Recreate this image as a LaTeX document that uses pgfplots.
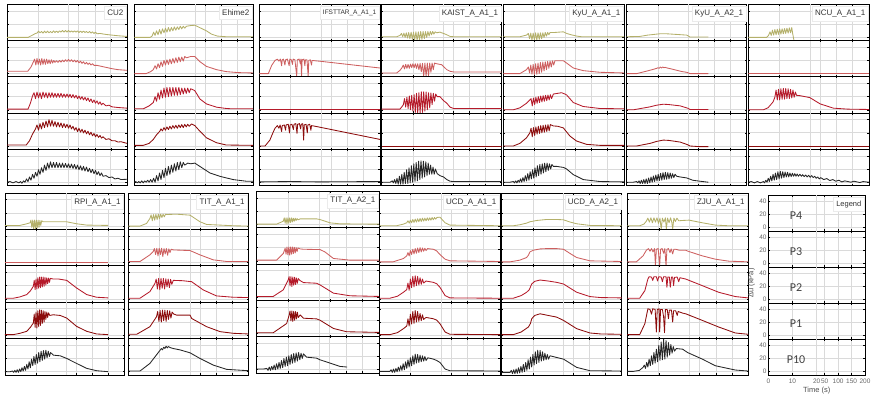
\documentclass[border=0pt]{standalone}
\usepackage{pgfplots}
\pgfplotsset{compat=1.18}
\usepackage{fontspec}
\setmainfont{Liberation Sans}
\newfontfamily\pfont{Carlito}

\definecolor{cPa}{HTML}{B4B06A}% P4
\definecolor{cPb}{HTML}{CD5F5F}% P3
\definecolor{cPc}{HTML}{B51A2A}% P2
\definecolor{cPd}{HTML}{8C0C0C}% P1
\definecolor{cPe}{HTML}{262626}% P10
\definecolor{gridc}{HTML}{DADADA}

% time axis: 0-20 s on the left part, 20-200 s compressed on the right part
\pgfplotsset{
  sp/.style={scale only axis, anchor=north west,
    xmin=0, xmax=40, ymin=-5, ymax=50,
    xtick={0,10.4,23.9,29.3,34.6,40}, ytick={0,20,40},
    extra x ticks={20.6},
    extra x tick style={grid style={black, line width=0.8pt}, major tick length=0pt},
    xmajorgrids, ymajorgrids,
    major grid style={gridc, line width=0.7pt},
    xticklabels={}, yticklabels={}, extra x tick labels={},
    tick align=inside, major tick length=1.6pt,
    tick style={black, line width=0.5pt},
    axis line style={black, line width=0.8pt},
  },
  r0/.style={cPa}, r1/.style={cPb}, r2/.style={cPc}, r3/.style={cPd}, r4/.style={cPe},
}
% current panel: left edge \xl, top edge \yt, width \ww, row height \hh (pt)
\newcommand{\sub}[2]{%
  \begin{axis}[sp, at={(\xl pt,{-(\yt+#1*\hh)*1pt})}, width=\ww pt, height=\hh pt]
    \addplot[r#1, line width=0.85pt, line join=round, mark=none] coordinates {#2};
  \end{axis}}
\newcommand{\esub}[1]{%
  \begin{axis}[sp, at={(\xl pt,{-(\yt+#1*\hh)*1pt})}, width=\ww pt, height=\hh pt]
  \end{axis}}
\newcommand{\ttl}[2][8]{%
  \node[anchor=north east, fill=white, draw=black!8, text=black!80,
    font=\fontsize{#1}{#1}\selectfont, inner xsep=3pt, inner ysep=3.5pt]
    at ({(\xl+\ww-0.5)*1pt},{-(\yt+2)*1pt}) {#2};}
\newcommand{\pset}[4]{\def\xl{#1}\def\yt{#2}\def\ww{#3}\def\hh{#4}}

\begin{document}
\begin{tikzpicture}
\path[use as bounding box] (0,0) rectangle (877pt,-398pt);

%% ---------------- CU2
\pset{7}{4.5}{120}{36.2}
\sub{0}{(0,0)(7,0)(8.3,3)(9.5,6)(10,6.5)(10.5,9.5)(11,7)(11.5,9)(12,6.5)(12.5,9.5)(13,7)(13.5,9.5)(14,7)(14.5,9)(15,7)(15.5,10)(16,7.5)(16.5,9.5)(17,7.5)(17.5,10)(18,8)(18.5,10.5)(19,8)(19.5,10.5)(20,8)(20.5,10.5)(21,8)(21.5,10)(22,8)(22.5,10)(23,8)(23.5,10)(24,7.5)(24.5,9.5)(25,7.5)(25.5,9.5)(26,7.5)(26.5,9)(27,7)(27.5,9)(28,6.5)(28.5,8.5)(29,6)(29.5,8)(30,5.5)(31,6)(33,4.5)(35,3.5)(37,2.5)(40,1.5)}
\sub{1}{(0,3.5)(6.9,3.5)(8,10)(8.8,18)(9.2,22)(9.6,13)(10,23)(10.4,14)(10.8,22)(11.2,13)(11.6,23)(12,14)(12.4,22)(12.8,14)(13.2,22)(13.6,15)(14,21)(14.4,15)(14.8,21)(15.2,16)(15.6,20)(16,17)(16.5,19.5)(17,17)(17.5,20)(18,17.5)(18.5,20.5)(19,18)(19.5,21)(20,18.5)(20.5,21.5)(21,18.5)(21.5,21)(22,18)(22.5,20.5)(23,17.5)(23.5,20)(24,16.5)(24.5,19)(25,15.5)(25.5,18)(26,14.5)(26.5,17)(27,14)(27.5,16)(28,13)(28.5,15)(29,12.5)(30,12.5)(31,11.5)(33,9.5)(35,7.5)(37,6)(40,5)}
\sub{2}{(0,1)(7,1)(7.8,10)(8.5,21)(9,26)(9.5,17)(10,27)(10.5,18)(11,26)(11.5,17)(12,27)(12.5,19)(13,26)(13.5,18)(14,26)(14.5,19)(15,26)(15.5,19)(16,25)(16.5,19)(17,25)(17.5,19)(18,25)(18.5,19)(19,24)(19.5,19)(20,24)(20.5,19)(21,23.5)(21.5,18.5)(22,23)(22.5,18)(23,22)(23.5,17)(24,21)(24.5,16)(25,20)(25.5,15)(26,19)(26.5,14)(27,18)(27.5,12.5)(28,16.5)(28.5,11)(29,15)(29.5,10)(30,13.5)(30.5,8.5)(31,12)(31.5,7.5)(32,10)(33,6)(34,7)(35,4.5)(37,3.5)(40,2.5)}
\sub{3}{(0,1.5)(6.4,1.5)(7.5,8)(8.5,18)(9.5,26)(10,32)(10.5,24)(11,34)(11.5,26)(12,36)(12.5,28)(13,38)(13.5,29)(14,40)(14.5,30)(15,39)(15.5,30)(16,37)(16.5,29)(17,36)(17.5,29)(18,35)(18.5,28)(19,34)(19.5,28)(20,33)(20.5,27)(21,32)(21.5,26)(22,30)(22.5,24)(23,28)(23.5,22)(24,27)(24.5,21)(25,25.5)(25.5,20)(26,24)(26.5,18.5)(27,22.5)(27.5,17)(28,21)(28.5,15.5)(29,19)(29.5,14)(30,17.5)(30.5,13)(31,16)(31.5,12)(32,14)(33,10)(34,11)(35,8)(36,8)(37,6)(38,6.5)(40,4)}
\sub{4}{(0,0)(1,1)(2,-1)(3,1)(4,-1)(4.5,1)(5,-1.5)(5.5,2)(6,0)(6.5,5)(7,1)(7.5,8)(8,3)(8.5,12)(9,6)(9.5,15)(10,9)(10.5,19)(11,12)(11.5,22)(12,15)(12.5,26)(13,18)(13.5,29)(14,21)(14.5,31)(15,22)(15.5,30)(16,22)(16.5,30)(17,22)(17.5,29)(18,22)(18.5,29)(19,22)(19.5,28.5)(20,22)(20.5,28)(21,21.5)(21.5,27.5)(22,21)(22.5,27)(23,20)(23.5,26)(24,19)(24.5,25)(25,18)(25.5,24)(26,17)(26.5,23)(27,16)(27.5,21)(28,14.5)(28.5,19.5)(29,13)(29.5,18)(30,11.5)(30.5,16)(31,10)(31.5,14)(32,9)(33,10)(34,7)(35,8)(36,5)(37,6)(38,4)(40,4.5)}
\ttl{CU2}

%% ---------------- Ehime2
\pset{134.3}{4.5}{118.7}{36.2}
\sub{0}{(0,0)(5.3,0)(6,2)(6.5,8)(7,3)(7.5,10)(8,4)(8.5,12)(9,5)(9.5,13)(10,7)(10.5,14)(11,8)(11.5,15)(12,9)(12.5,15)(13,10)(13.5,16)(14,11)(14.5,16)(15,12)(15.5,17)(16,13)(16.5,17)(17,14)(17.6,17)(19,18)(20.4,18.5)(22,15)(24.3,10)(26,5)(28,2)(31,1)(40,1)}
\sub{1}{(0,0)(4,0)(5.5,3)(6.4,6)(7,12)(7.5,7)(8,15)(8.5,9)(9,18)(9.5,11)(10,20)(10.5,13)(11,21)(11.5,14)(12,22)(12.5,15)(13,23)(13.5,16)(14,24)(14.5,17)(15,25)(15.5,18)(16,25)(16.5,19)(17,26)(17.6,24)(19,26)(20.4,26)(22,18.5)(24.3,11)(27.7,6)(31,3)(35,1.5)(40,1)}
\sub{2}{(0,1.5)(3,1.5)(5,6)(6.4,11)(7,20)(7.5,13)(8,26)(8.5,16)(9,30)(9.5,18)(10,33)(10.5,19)(11,34)(11.5,20)(12,34)(12.5,21)(13,34)(13.5,22)(14,34)(14.5,22)(15,34)(15.5,23)(16,33)(16.5,24)(17,33)(17.5,25)(18,33)(18.5,26)(19,32)(20,30)(20.4,29)(22.1,16.5)(24.3,9)(27.7,4)(31,2)(33,1.5)(40,1.5)}
\sub{3}{(0,1)(3,1)(5,4)(6.4,10)(7.5,17)(8.6,22.5)(9,26)(9.5,23)(10,28)(10.5,24)(11,29)(11.5,25)(12,30)(12.5,26)(13,31)(13.5,27)(14,31.5)(14.5,27)(15,32)(15.5,28)(16,32.5)(16.5,28)(17,33)(17.5,29)(18,33)(18.5,30)(19.3,33.5)(20.4,31)(22.1,22.5)(24.3,12.5)(27.7,5)(31,1.5)(40,1)}
\sub{4}{(0,0)(0.5,1)(1,-1)(1.5,1)(2,-1)(2.5,2)(3,-1)(3.5,2)(4,0)(4.5,3)(5,0)(5.5,4)(6,0)(6.5,6)(7,0)(7.5,10)(8,2)(8.5,14)(9,4)(9.5,18)(10,7)(10.5,21)(11,10)(11.5,24)(12,12)(12.5,26)(13,15)(13.5,28)(14,17)(14.5,30)(15,19)(15.5,31)(16,22)(16.5,30)(17,26)(18,29)(19,28)(20.4,29)(22.1,24)(25.5,14)(28.8,9)(33.3,4)(37.7,1.5)(40,1.5)}
\ttl{Ehime2}

%% ---------------- IFSTTAR_A_A1_1
\pset{259.3}{4.5}{120.7}{36.2}
\esub{0}
\sub{1}{(0,0)(3,0)(4.1,12.5)(5.2,20)(6,22)(6.5,19)(7,22)(7.4,12)(7.6,21)(8,22)(8.5,13)(8.7,21)(9.3,22)(9.9,12)(10.1,22)(10.6,21)(11,14)(11.2,22)(11.8,21)(12.4,-4)(12.6,21)(13.2,22)(13.6,15)(13.8,22)(14,-4)(14.2,21)(14.8,22)(15.1,12)(15.3,21)(15.8,21)(16.2,-4)(16.4,20)(16.9,21)(17.3,13)(17.5,20)(18.5,19.5)(20.7,18.5)(40,8.5)}
\sub{2}{(0,0)(40,0)}
\sub{3}{(0,0)(1.9,0)(3.5,9)(4.5,20)(5.2,27)(6,31)(6.5,27)(6.9,32)(7.4,22)(7.6,31)(8.3,32)(8.7,24)(8.9,32)(9.6,33)(10,20)(10.2,32)(10.8,33)(11.3,25)(11.5,33)(12.1,34)(12.5,19)(12.7,33)(13.3,34)(13.7,26)(13.9,33)(14.4,34)(14.7,9)(14.9,32)(15.5,33)(15.9,20)(16.1,32)(16.7,33)(17.1,24)(17.3,31)(18.5,30)(19.6,29)(40,10)}
\sub{4}{(0,0.5)(10,1)(20,0.5)(40,1)}
\ttl[6.5]{IFSTTAR\_A\_A1\_1}

%% ---------------- KAIST_A_A1_1
\pset{381.7}{4.5}{120}{36.2}
\sub{0}{(0,1)(5,1)(6.1,3)(6.6,6)(7,1)(7.4,6.5)(7.8,0)(8.2,7)(8.6,-1)(9,7.5)(9.4,-2)(9.8,8)(10.2,-3)(10.6,8)(11,-4)(11.4,8.5)(11.8,-4.5)(12.2,8.5)(12.6,-4)(13,9)(13.4,-3)(13.8,9)(14.2,-2)(14.6,9)(15,0)(15.4,9)(15.8,2)(16.2,9)(16.6,4)(17,9)(17.4,5)(17.8,8.5)(18.3,7)(19.4,8)(20.6,6)(21.7,4)(22.8,1.5)(24,1)(40,1)}
\sub{1}{(0,1)(5,1)(6.1,5)(6.7,8.5)(7.2,13)(7.6,7)(8,14)(8.4,8)(8.8,14)(9.2,8)(9.6,14.5)(10,9)(10.4,15)(10.8,9)(11.2,15)(11.6,8)(12,15)(12.4,6)(12.8,15.5)(13.2,3)(13.6,15.5)(14,-4)(14.4,16)(14.8,-4)(15.2,16)(15.6,-3)(16,16)(16.4,2)(16.8,16)(17.2,6)(17.6,16)(18.3,15)(20,13.5)(21.7,6)(22.8,3.5)(24,2.5)(40,2.5)}
\sub{2}{(0,1)(6.1,1)(7.2,7.5)(7.6,17)(8,4)(8.4,19)(8.8,2)(9.2,21)(9.6,0)(10,22)(10.4,-2)(10.8,23)(11.2,-4)(11.6,25)(12,-5)(12.4,26)(12.8,-5)(13.2,27.5)(13.6,-4)(14,27.5)(14.4,-2)(14.8,27)(15.2,0)(15.6,26)(16,3)(16.4,25.5)(16.8,8)(17.2,25)(17.6,13)(18,24)(18.5,20)(19.4,20)(20.6,14)(21.7,10)(22.8,4)(24,2)(40,2)}
\sub{3}{(0,0)(40,0)}
\sub{4}{(0,0)(2.8,0)(3.5,2)(3.9,-1)(4.3,4)(4.7,-2)(5.1,6)(5.5,-3)(5.9,9)(6.3,-3)(6.7,12)(7.1,-3)(7.5,15)(7.9,-2)(8.3,19)(8.7,-2)(9.1,22)(9.5,-1)(9.9,25)(10.3,0)(10.7,28)(11.1,1)(11.5,30)(11.9,2)(12.3,32)(12.7,4)(13.1,32.5)(13.5,6)(13.9,32)(14.3,8)(14.7,31)(15.1,10)(15.5,29)(15.9,12)(16.3,26)(16.7,12)(17.1,23)(17.5,12)(17.9,20)(18.5,13)(19.4,10)(20.6,8)(21.7,4)(22.8,1.5)(24,1)(40,1)}
\ttl{KAIST\_A\_A1\_1}

%% ---------------- KyU_A_A1_1
\pset{503.3}{4.5}{120.7}{36.2}
\sub{0}{(0,1)(5.5,1)(7.7,3.5)(8.3,6)(8.7,-2)(9.1,6.5)(9.5,-4)(9.9,6.5)(10.3,-4)(10.7,7)(11.1,-4)(11.5,7)(11.9,-3)(12.3,7)(12.7,-2)(13.1,7)(13.5,0)(13.9,7.5)(14.3,2)(14.7,7.5)(15.1,4)(15.5,7.5)(17,7.5)(19.9,8.5)(21,6)(22.1,4.5)(24.3,2)(26,1)(40,1)}
\sub{1}{(0,0)(5.5,0)(7.7,6)(8.3,10)(8.7,1)(9.1,13)(9.5,-1)(9.9,14)(10.3,-1.5)(10.7,15)(11.1,-1)(11.5,16)(11.9,0)(12.3,17)(12.7,2)(13.1,17.5)(13.5,4)(13.9,18)(14.3,6)(14.7,18.5)(15.1,8)(15.5,19)(15.9,10)(16.3,19.5)(16.7,13)(17.1,19.5)(17.7,19.5)(19.9,19.5)(21,16)(23.2,8.5)(26.5,4.5)(32,2)(40,1)}
\sub{2}{(0,0)(3.3,0)(5.5,3)(7.7,10)(8.8,15)(9.2,17)(9.6,6)(10,18)(10.4,8)(10.8,19)(11.2,10)(11.6,20)(12,11)(12.4,21)(12.8,12)(13.2,21.5)(13.6,13)(14,22)(14.4,14)(14.8,22.5)(15.2,15)(15.6,23)(16,17)(16.6,24)(18,25)(19.3,26)(20.4,24)(21,22.5)(23.2,11)(26.5,5)(32,2)(40,1.5)}
\sub{3}{(0,0)(3.3,0)(5.5,4)(7.7,12.5)(8.8,20)(9.2,27)(9.6,14)(10,28)(10.4,16)(10.8,29)(11.2,18)(11.6,30)(12,19)(12.4,31)(12.8,20)(13.2,31.5)(13.6,21)(14,32)(14.4,22)(14.8,32.5)(15.2,23)(15.6,32.5)(16.6,30.5)(18,30)(19.9,27.5)(22.1,15)(24.3,7.5)(27.6,2.5)(32,1)(40,1)}
\sub{4}{(0,0)(2.2,0)(3.3,1)(3.7,-1)(4.1,2)(4.5,-1)(4.9,3)(5.3,0)(5.7,5)(6.1,0)(6.5,7)(6.9,1)(7.3,10)(7.7,2)(8.1,13)(8.5,3)(8.9,16)(9.3,5)(9.7,19)(10.1,6)(10.5,22)(10.9,8)(11.3,25)(11.7,10)(12.1,27)(12.5,12)(12.9,28)(13.3,14)(13.7,29)(14.1,16)(14.5,29)(14.9,18)(15.3,28)(15.7,20)(16.1,27)(16.6,24)(17.7,24)(19.9,22.5)(21,20)(23.2,11.5)(26.5,4)(32,1)(40,0.5)}
\ttl{KyU\_A\_A1\_1}

%% ---------------- KyU_A_A2_1
\pset{626.7}{4.5}{120}{36.2}
\sub{0}{(0,1)(4.4,1.5)(7,3.5)(10,5)(11.1,5.5)(13.3,5.5)(16.7,4.5)(20,3.5)(20.6,2)(21.1,0.5)(27.2,0.5)}
\sub{1}{(0,0)(3.3,0)(6,3)(8.5,6)(10,8)(10.4,9)(10.8,8)(11.2,10)(11.6,8.5)(12,10)(12.4,9)(12.8,9.5)(13.5,8.5)(15,7)(16.7,5)(18.5,3)(20,2)(21.1,0)(27.2,0)}
\sub{2}{(0,0)(2.2,0)(7.8,4.5)(10,7)(12.2,8.5)(14,8)(17.8,6)(20.3,2.5)(21.1,0.5)(27.2,0.5)}
\sub{3}{(0,0)(3.3,0)(7.8,4)(10,7)(12.2,9)(14,8.5)(17.8,6)(20.3,2)(21.1,0)(24.4,-1)(27.2,-1)}
\sub{4}{(0,0)(2.2,0)(3.3,1)(3.7,-1)(4.1,2)(4.5,-2)(4.9,3)(5.3,-2)(5.7,4)(6.1,-2)(6.5,5)(6.9,-2)(7.3,6.5)(7.7,-1)(8.1,8)(8.5,0)(8.9,9.5)(9.3,1)(9.7,11)(10.1,2)(10.5,12)(10.9,2.5)(11.3,13.5)(11.7,3)(12.1,14.5)(12.5,4)(12.9,15)(13.3,4.5)(13.7,14.5)(14.1,5)(14.5,14)(14.9,6)(15.3,13)(15.7,7)(16.1,12)(16.7,9)(17.8,8)(20,6.5)(22,3)(24.4,1.5)(27.2,0)}
\ttl{KyU\_A\_A2\_1}

%% ---------------- NCU_A_A1_1
\pset{748.3}{4.5}{120.7}{36.2}
\sub{0}{(0,0)(6.1,0)(6.7,3)(7.2,8.5)(7.6,3)(8,11)(8.4,3.5)(8.8,12)(9.2,4)(9.6,12.5)(10,4.5)(10.4,13)(10.8,5)(11.2,13)(11.6,5.5)(12,13.5)(12.4,6)(12.8,14)(13.2,6.5)(13.6,14.5)(14,7)(14.4,15)(14.7,6)(15.1,-4)}
\sub{1}{(0,0)(40,0)}
\sub{2}{(0,0)(5,0)(6.5,3)(7.2,6.5)(8.2,12)(8.8,19)(9.2,30)(9.6,15)(10,31)(10.4,15)(10.8,32)(11.2,16)(11.6,32.5)(12,16)(12.4,32.5)(12.8,17)(13.2,32)(13.6,17)(14,31)(14.4,18)(14.8,30)(15.2,19)(15.6,27)(16,22)(17.1,21.5)(20.4,18.5)(23.8,9)(28.2,2.5)(33,1)(40,0.5)}
\sub{3}{(0,0)(40,0)}
\sub{4}{(0,0)(1,1)(2,-1)(3,1)(4,-1)(5,1)(5.4,-1)(5.8,3)(6.2,0)(6.6,6)(7,1)(7.4,9)(7.8,2)(8.2,12)(8.6,3)(9,14)(9.4,4)(9.8,16)(10.2,5)(10.6,16.5)(11,6)(11.4,16)(11.8,7)(12.2,15.5)(12.6,8)(13,15)(13.4,8)(13.8,14)(14.2,8.5)(14.6,13.5)(15,9)(15.4,13)(15.8,9)(16.2,12.5)(16.6,9)(17.1,12)(17.6,9)(18,11.5)(18.5,8.5)(19,11)(19.5,8)(20,10.5)(20.5,7.5)(21,10)(21.5,7)(22,9)(22.5,6)(23,8)(23.5,5)(24,7)(25,4)(26,5.5)(27,2.5)(28,4)(29,1.5)(30,3)(31,0.5)(32,2)(34,0)(35,1.5)(37,-0.5)(38,1)(40,0)}
\ttl{NCU\_A\_A1\_1}

%% ---------------- RPI_A_A1_1
\pset{5}{193}{119.3}{36.4}
\sub{0}{(0,1)(5,1)(7.3,3.5)(8.4,5)(8.7,9)(9,-2)(9.3,9)(9.6,-4)(9.9,9)(10.2,-4)(10.5,9)(10.8,-3)(11.1,9)(11.4,-2)(11.7,8.5)(12,1)(12.3,8)(12.8,6.5)(15,6.5)(20.7,6.5)(24,3.5)(27.4,1.5)(34.6,1)}
\sub{1}{(0,0)(34.6,0)}
\sub{2}{(0,1)(2.8,1)(5,3)(7.3,6.5)(8.5,12)(9.5,19)(9.8,28)(10.1,14)(10.4,30)(10.7,15)(11,32)(11.3,16)(11.6,33)(11.9,17)(12.2,33)(12.5,18)(12.8,33)(13.1,19)(13.4,32.5)(13.7,21)(14,32)(14.3,23)(14.6,31.5)(14.9,25)(15.2,31)(16.2,30)(18,30)(20.7,28)(24,16.5)(27.4,6.5)(30.7,2.5)(34.6,1.5)}
\sub{3}{(0,1)(2.8,1)(5,3)(7.3,6)(8.5,12)(9.5,18.5)(9.8,32)(10.1,12)(10.4,35)(10.7,11)(11,37)(11.3,13)(11.6,38.5)(11.9,15)(12.2,38)(12.5,18)(12.8,37)(13.1,20)(13.4,36)(13.7,24)(14,35)(14.3,27)(14.6,34)(15,30)(16.2,31)(18.5,30)(20.7,26)(24,13.5)(27.4,6)(30.7,2)(34.6,1)}
\sub{4}{(0,0)(1.7,0)(2.5,1)(2.9,-1)(3.3,2)(3.7,-1)(4.1,3)(4.5,-1)(4.9,4)(5.3,0)(5.7,6)(6.1,1)(6.5,8)(6.9,2)(7.3,11)(7.7,4)(8.1,15)(8.5,6)(8.9,19)(9.3,9)(9.7,23)(10.1,11)(10.5,26)(10.9,13)(11.3,29)(11.7,15)(12.1,31)(12.5,17)(12.9,32)(13.3,19)(13.7,32.5)(14.1,21)(14.5,31)(14.9,23)(15.3,29)(16.2,25)(18.5,24)(20.7,20)(24,12.5)(27.4,5)(30.7,1.5)(34.6,0)}
\ttl{RPI\_A\_A1\_1}

%% ---------------- TIT_A_A1_1
\pset{128.3}{193}{120}{36.4}
\sub{0}{(0,0)(3.9,0)(6.1,4)(7.2,11.5)(7.6,17)(8,8)(8.4,17.5)(8.8,9)(9.2,18)(9.6,10)(10,18)(10.4,11)(10.8,18)(11.2,13)(11.6,18)(12,14)(12.4,18)(12.8,17.5)(16,18)(20.6,16.5)(23.9,6.5)(26.1,2.5)(35,0.5)(40,0)}
\sub{1}{(0,1.5)(3.9,1.5)(7.2,11.5)(8.3,16.5)(8.7,21)(9.1,12)(9.5,21.5)(9.9,10)(10.3,21.5)(10.7,12)(11.1,21.5)(11.5,9)(11.9,21)(12.3,13)(12.7,21)(13.1,11)(13.5,20.5)(13.9,15)(14.3,20)(15,19)(20.6,18)(23.9,11.5)(28.3,4)(32.8,1.5)(40,1.5)}
\sub{2}{(0,1)(3.9,1)(7.2,11)(8.9,23.5)(9.3,30)(9.7,15)(10.1,31)(10.5,14)(10.9,31)(11.3,16)(11.7,31)(12.1,15)(12.5,30.5)(12.9,18)(13.3,30)(13.7,17)(14.1,29.5)(14.5,22)(15,28)(18,27.5)(21.1,26)(25,13.5)(29.4,4.5)(35,2.5)(40,2)}
\sub{3}{(0,1.5)(2.8,1.5)(7.2,13)(9.4,28)(9.8,36)(10.2,21)(10.6,37.5)(11,20)(11.4,38)(11.8,22)(12.2,38)(12.6,21)(13,37.5)(13.4,24)(13.8,37)(14.2,26)(14.6,35)(15.2,32)(16.1,30.5)(20.6,30.5)(21.1,25.5)(26.1,13)(30.6,5.5)(35,3)(40,2)}
\sub{4}{(0,1)(3.9,1)(7.2,12.5)(10.6,32.5)(11,35)(11.4,33)(11.8,37)(12.2,35)(12.6,38.5)(13,36)(13.4,38)(13.9,36.5)(15,35)(17.2,33)(20.6,28.5)(23.9,20)(28.3,10)(32.8,3.5)(40,1.5)}
\ttl{TIT\_A\_A1\_1}

%% ---------------- TIT_A_A2_1
\pset{256.7}{191.5}{122.3}{36.3}
\sub{0}{(0,0.5)(6.5,0.5)(8.7,5)(9,10)(9.3,2)(9.6,10)(9.9,1)(10.2,10)(10.5,2)(10.8,10)(11.1,3)(11.4,10)(11.7,4)(12,9.5)(12.3,5)(12.6,9.5)(12.9,6)(13.2,9)(13.5,7)(14.2,8.5)(19.6,8.5)(20.7,7.5)(24,2.5)(27.2,1)(40,0.5)}
\sub{1}{(0,1)(6.5,1)(8.7,11)(9.3,19)(9.6,10)(9.9,21)(10.2,9)(10.5,21)(10.8,8.5)(11.1,21)(11.4,10)(11.7,21)(12,11)(12.3,20.5)(12.6,12)(12.9,20)(13.2,14)(13.5,19.5)(14.2,18)(15.3,17.5)(20.7,17)(22.3,13.5)(25.1,3.5)(30.5,1)(40,1)}
\sub{2}{(0,1)(5.4,1)(8.7,11)(10.3,26)(10.6,31)(10.9,17)(11.2,31)(11.5,16)(11.8,30.5)(12.1,18)(12.4,30)(12.7,19)(13,29)(13.3,21)(13.6,28)(14.2,25)(15.3,22)(19.6,21)(20.7,18.5)(25.1,6)(30.5,2)(40,1)}
\sub{3}{(0,1)(5.4,1)(9.8,15)(10.6,27.5)(10.9,34)(11.2,19)(11.5,34)(11.8,18)(12.1,33.5)(12.4,20)(12.7,33)(13,22)(13.3,32)(13.6,24)(14.2,28)(15.3,23)(19.6,22)(20.7,20)(25.1,7.5)(29.4,2.5)(40,1.5)}
\sub{4}{(0,1)(2.2,1)(3.3,2)(3.7,-1)(4.1,4)(4.5,-1)(4.9,5)(5.3,0)(5.7,7)(6.1,0)(6.5,9)(6.9,1)(7.3,11)(7.7,2)(8.1,14)(8.5,3)(8.9,17)(9.3,5)(9.7,19)(10.1,6)(10.5,21)(10.9,8)(11.3,23)(11.7,10)(12.1,24.5)(12.5,11)(12.9,25.5)(13.3,13)(13.7,26)(14.1,15)(14.5,25)(14.9,17)(15.3,24)(16.3,19)(19.6,17.5)(20.7,15)(24,10)(27.2,5)(29.6,4)}
\ttl{TIT\_A\_A2\_1}

%% ---------------- UCD_A_A1_1
\pset{379.3}{193}{120.7}{36.4}
\sub{0}{(0,0.5)(5.7,0.5)(8,3)(9.1,5)(9.5,8)(9.9,4.5)(10.3,9)(10.7,5)(11.1,10)(11.5,5.5)(11.9,10.5)(12.3,6)(12.7,11)(13.1,6.5)(13.5,11.5)(13.9,7)(14.3,12)(14.7,7.5)(15.1,12)(15.5,8)(15.9,12.5)(16.3,8.5)(16.7,12.5)(17.1,9)(17.5,13)(17.9,9.5)(18.3,13)(18.7,10.5)(19.1,13)(20.1,13.5)(21.8,5)(23.4,1.5)(40,0.5)}
\sub{1}{(0,1)(4.6,1)(8,6)(9.1,10)(9.5,15)(9.9,10)(10.3,18)(10.7,12)(11.1,20)(11.5,13)(11.9,21)(12.3,14)(12.7,22)(13.1,15)(13.5,22.5)(13.9,16)(14.3,22)(14.7,17)(15.1,21.5)(15.5,18)(16,21)(17.9,20)(19,17.5)(20.1,12)(21.8,5)(23.4,2.5)(40,1.5)}
\sub{2}{(0,1)(3.5,1)(6,4)(8,10)(9.1,14)(9.5,24)(9.9,13)(10.3,30)(10.7,17)(11.1,34)(11.5,18)(11.9,35)(12.3,20)(12.7,34)(13.1,21)(13.5,32)(13.9,22)(14.3,30)(14.7,24)(15.5,27)(17.9,25)(19,23)(20.1,17.5)(21.8,5)(23.4,1.5)(40,1)}
\sub{3}{(0,1)(3.5,1)(6,4)(8,10)(9.1,14)(9.5,25)(9.9,14)(10.3,32)(10.7,17)(11.1,36)(11.5,18)(11.9,37.5)(12.3,20)(12.7,36)(13.1,21)(13.5,33)(13.9,22)(14.3,31)(14.7,24)(15.5,27)(17.9,25)(19,23)(20.1,17.5)(21.8,5)(23.4,1.5)(40,1)}
\sub{4}{(0,0.5)(3.5,0.5)(3.9,3)(4.3,-1)(4.7,4)(5.1,-1)(5.5,5)(5.9,0)(6.3,7)(6.7,1)(7.1,9)(7.5,2)(7.9,12)(8.3,3)(8.7,15)(9.1,5)(9.5,18)(9.9,7)(10.3,21)(10.7,9)(11.1,24)(11.5,11)(11.9,26.5)(12.3,13)(12.7,26)(13.1,14)(13.5,25)(13.9,15)(14.3,24)(14.7,16)(15.1,23)(15.5,17)(16.1,21)(17.9,19)(19,17)(20.1,14)(21.8,4)(23.4,1.5)(40,1)}
\ttl{UCD\_A\_A1\_1}

%% ---------------- UCD_A_A2_1
\pset{501.7}{193}{120}{36.4}
\sub{0}{(0,0.5)(3.9,0.5)(6,2)(8.3,4.5)(9.4,6.5)(11.7,8.5)(15,10)(18.3,10)(20.6,9.5)(22.5,6.5)(25,3.5)(29.4,1)(40,0.5)}
\sub{1}{(0,1)(2.8,1)(6,3.5)(8.3,7.5)(8.9,11)(9.4,16)(10.5,18.5)(12.8,20.5)(15,21)(18.3,21)(20.6,20)(23,13)(25,7.5)(29.4,2.5)(40,1.5)}
\sub{2}{(0,1)(3.9,1)(6.5,5)(8.3,10)(9.2,14)(10,22.5)(11,26.5)(12.8,28.5)(15.5,27)(18.3,25)(20.6,22.5)(25,10)(29.4,3.5)(33,2)(40,1.5)}
\sub{3}{(0,1)(3.9,1)(6.5,5)(8.9,12.5)(9.6,18)(10,25)(11,30)(12.8,32.5)(15.5,30)(18.3,27.5)(20.6,22.5)(25,10)(29.4,3.5)(33,2)(40,1.5)}
\sub{4}{(0,-1)(2.8,-1)(3.2,2)(3.6,-3)(4,3)(4.4,-3)(4.8,4)(5.2,-2.5)(5.6,6)(6,-2)(6.4,8)(6.8,-1)(7.2,11)(7.6,0)(8,14)(8.4,2)(8.8,18)(9.2,4)(9.6,22)(10,7)(10.4,26)(10.8,10)(11.2,30)(11.6,12)(12,32.5)(12.4,14)(12.8,32)(13.2,16)(13.6,30)(14,17)(14.4,28)(14.8,18)(15.2,26)(15.6,19)(16.1,24)(18.3,21.5)(20.6,19)(25,6.5)(29.4,1.5)(40,1)}
\ttl{UCD\_A\_A2\_1}

%% ---------------- ZJU_A_A1_1
\pset{627.3}{193}{121}{36.4}
\sub{0}{(0,0.5)(4.1,0.5)(5.5,3)(6.3,7.5)(6.8,12)(7.3,6)(7.8,12.5)(8.3,5)(8.8,12.5)(9.3,6)(9.8,12.5)(10.3,4)(10.8,12)(11.2,-5)(11.6,12)(12.1,6)(12.6,12.5)(12.9,-5)(13.3,12)(13.8,5)(14.3,12.5)(14.7,6)(15,-4)(15.4,12)(15.9,7)(16.4,12)(17,8)(18.3,8.5)(20.4,9)(24.8,5)(29.1,1.5)(33.5,0.5)(40,0.5)}
\sub{1}{(0,1)(3,1)(5.2,10)(6.3,18.5)(7,21)(7.5,17)(8,21)(8.5,16)(9,21)(9.3,-5)(9.6,20)(10.2,21)(10.7,-5)(11,20)(11.5,21)(12,14)(12.4,21)(12.8,-5)(13.1,20)(13.6,21)(14.1,15)(14.5,20.5)(15,13)(15.4,20)(16,20)(17.2,18.5)(19.3,18.5)(20.4,16.5)(24.8,10)(29.1,5)(33.5,2)(40,1)}
\sub{2}{(0,1)(4.1,1)(5.8,12.5)(6.8,30)(7.2,33.5)(8,33)(8.4,28)(8.8,33.5)(9.6,33.5)(10,27)(10.4,33.5)(11.2,33)(11.6,26)(12,33.5)(12.8,33.5)(13.1,17.5)(13.4,33)(13.9,33)(14.2,17.5)(14.6,33)(15,33)(15.3,20)(15.6,32.5)(16.5,33)(17,26)(17.4,32)(19.3,30)(24.8,20)(30.2,10)(35.7,3.5)(40,1.5)}
\sub{3}{(0,1)(4.1,1)(5.8,17.5)(6.8,40)(7.5,39)(8,32)(8.4,40)(9.2,39)(9.6,5)(9.9,39)(10.5,40)(10.7,5)(11,39)(11.6,39)(12,28)(12.3,4)(12.6,39)(13.2,39)(13.6,25)(13.9,38)(14.6,38)(15,20)(15.3,37)(16,37)(16.5,30)(16.8,36)(18.3,33.5)(19.3,32.5)(24.8,22.5)(30.2,12.5)(35.7,3.5)(40,1.5)}
\sub{4}{(0,0.5)(2,0.5)(4,2)(5.2,6.5)(5.6,10)(6,5)(6.4,14)(6.8,7)(7.2,19)(7.6,9)(8,24)(8.4,11)(8.8,29)(9.2,13)(9.6,34)(10,15)(10.4,40)(10.8,17)(11.2,45)(11.6,18)(12,49)(12.4,19)(12.8,47)(13.2,22)(13.6,44)(14,25)(14.4,41)(14.8,28)(15.2,38)(15.6,31)(16.2,35)(18.3,34)(19.9,29)(24.8,19)(29.1,9)(35.7,2.5)(40,1)}
\ttl{ZJU\_A\_A1\_1}

%% ---------------- Legend panel
\pset{768.3}{195}{96.7}{36}
\pgfplotsset{lg/.style={sp, at={(\xl pt,{-(\yt+#1*\hh)*1pt})}, width=\ww pt, height=\hh pt,
  xtick={0,10,23.333,28.889,34.444,40}, extra x ticks={20},
  yticklabels={0,20,40},
  yticklabel style={font=\fontsize{6.5}{6.5}\selectfont, text=black!60, inner sep=1.5pt},
  xticklabel style={font=\fontsize{6.5}{6.5}\selectfont, text=black!60}}}
\newcommand{\plab}[1]{\node[font=\pfont\fontsize{12}{12}\selectfont, text=black!75] at (axis cs:11.5,18) {#1};}
\begin{axis}[lg=0]\plab{P4}\end{axis}
\begin{axis}[lg=1]\plab{P3}\end{axis}
\begin{axis}[lg=2]\plab{P2}\end{axis}
\begin{axis}[lg=3]\plab{P1}\end{axis}
\begin{axis}[lg=4, xticklabels={0,10,50,100,150,200}, extra x tick labels={20},
  extra x tick style={xticklabel style={font=\fontsize{6.5}{6.5}\selectfont, text=black!60}},
  xlabel={Time (s)}, xlabel style={font=\fontsize{7.5}{7.5}\selectfont, text=black!70, yshift=3pt}]\plab{P10}\end{axis}
\node[rotate=90, font=\fontsize{7.5}{7.5}\selectfont, text=black!70] at (751.5pt,-283pt) {Δu (kPa)};
\ttl[7.5]{Legend}

\end{tikzpicture}
\end{document}
